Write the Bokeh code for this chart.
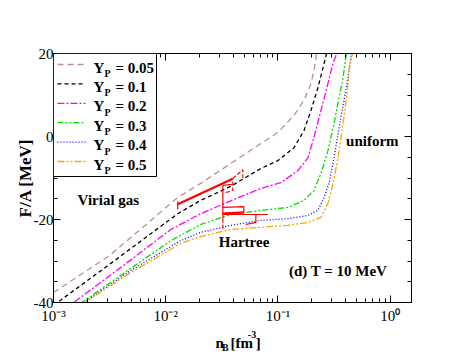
import math
from bokeh.plotting import figure
from bokeh.layouts import column
from bokeh.models import (Range1d, FixedTicker, LogAxis, LinearAxis, Label,
                          BoxAnnotation, Arrow, CustomJSTickFormatter)
from bokeh.embed import file_html
from bokeh.resources import INLINE

# ---------------- data ----------------
yp_values = [0.05, 0.1, 0.2, 0.3, 0.4, 0.5]

nb_005 = [0.001, 0.00316, 0.0128, 0.0205, 0.038, 0.0705, 0.1, 0.139, 0.1706, 0.1972, 0.2094, 0.2183, 0.2215]
fa_005 = [-37.6, -28.7, -14.7, -11.3, -6.5, -1.7, 1.0, 5.1, 8.7, 12.8, 15.9, 19.0, 20.3]

nb_01 = [0.001, 0.00316, 0.0128, 0.0205, 0.038, 0.0705, 0.1, 0.139, 0.1706, 0.1972, 0.2275, 0.2523, 0.2685, 0.272]
fa_01 = [-40.7, -30.8, -18.6, -15.4, -12.0, -7.7, -5.8, -2.7, 1.4, 6.3, 11.8, 16.6, 19.5, 20.3]

nb_02 = [0.001, 0.00148, 0.00396, 0.0111, 0.0205, 0.0405, 0.0705, 0.1064, 0.151, 0.1854, 0.2094, 0.2421, 0.2793, 0.3097, 0.3296, 0.336]
fa_02 = [-43.6, -40.2, -31.6, -22.4, -18.6, -15.2, -12.5, -11.1, -8.2, -5.1, -0.2, 6.3, 12.8, 17.6, 19.5, 20.3]

nb_03 = [0.001, 0.00174, 0.00487, 0.0111, 0.0205, 0.038, 0.0705, 0.1227, 0.1706, 0.2094, 0.2421, 0.2793, 0.3162, 0.3508, 0.3805, 0.4046, 0.41]
fa_03 = [-44.6, -40.2, -31.8, -25.1, -21.2, -18.8, -17.8, -17.1, -15.4, -13.0, -8.9, -3.4, 3.1, 9.4, 14.2, 19.5, 20.3]

nb_04 = [0.001, 0.00182, 0.00487, 0.0136, 0.0205, 0.038, 0.0705, 0.1227, 0.1854, 0.2275, 0.2576, 0.2851, 0.3162, 0.3508, 0.3882, 0.4217, 0.4487, 0.455]
fa_04 = [-44.8, -40.2, -32.3, -25.1, -23.1, -21.4, -20.2, -19.8, -19.0, -17.8, -14.7, -11.3, -5.1, 2.2, 8.7, 14.2, 19.5, 20.3]

nb_05 = [0.001, 0.00185, 0.00487, 0.0136, 0.0205, 0.038, 0.0705, 0.1227, 0.1854, 0.2421, 0.2793, 0.3097, 0.3436, 0.3805, 0.413, 0.4305, 0.4581, 0.462]
fa_05 = [-45.1, -40.2, -32.8, -25.8, -24.1, -22.4, -21.9, -21.4, -20.7, -19.5, -16.1, -11.3, -5.1, 3.1, 10.4, 15.9, 19.5, 20.3]

series_nb = [nb_005, nb_01, nb_02, nb_03, nb_04, nb_05]
series_fa = [fa_005, fa_01, fa_02, fa_03, fa_04, fa_05]

# red phase-boundary segments (Hartree region)
red_solid_nb = [[0.0128, 0.0128],
                [0.0323, 0.0323], [0.0323, 0.0396],
                [0.0323, 0.0497, 0.0497, 0.0323],
                [0.0323, 0.0815],
                [0.0636, 0.0636, 0.0518]]
red_solid_fa = [[-17.6, -15.6],
                [-11.8, -19.8], [-11.8, -11.5],
                [-17.1, -16.9, -18.3, -18.6],
                [-18.8, -18.8],
                [-18.8, -20.7, -21.2]]
red_dash_nb = [[0.0396, 0.0487, 0.0487], [0.0344, 0.0396, 0.0396], [0.0323, 0.0323]]
red_dash_fa = [[-10.1, -8.0, -10.5], [-13.5, -13.0, -10.1], [-19.8, -22.2]]
red_thick_nb = [[0.0128, 0.0396], [0.0323, 0.0497]]
red_thick_fa = [[-16.3, -10.2], [-18.6, -18.3]]

x_major = [0.001, 0.01, 0.1, 1.0]
x_labels = ["10\u207b\u00b3", "10\u207b\u00b2", "10\u207b\u00b9", "10\u2070"]
y_major = [-40, -20, 0, 20]
y_labels = ["-40", "-20", "0", "20"]

# ---------------- styles ----------------
colors = ["#BC8F8F", "#000000", "#FF00FF", "#00E000", "#0000FF", "#FFA500"]
dashes = ["6 4", "4 3", "7 2 2 2", "6 2 2 2 2 2", "1 2", "7 2 2 2 2 2"]
SERIF = "Liberation Serif"

p = figure(width=455, height=326, x_axis_type="log",
           x_range=Range1d(1e-3, 1.55), y_range=Range1d(-40, 20),
           output_backend="svg", toolbar_location=None,
           min_border_left=53, min_border_right=44,
           min_border_top=53, min_border_bottom=24)
p.xgrid.visible = False
p.ygrid.visible = False
p.outline_line_color = "black"
p.outline_line_width = 1
p.background_fill_color = "white"
p.border_fill_color = "white"

x_minor = [k * 10.0 ** e for e in range(-3, 1) for k in range(2, 10)]
y_minor = [v for v in range(-40, 21, 5) if v not in y_major]
xt = FixedTicker(ticks=x_major, minor_ticks=x_minor)
yt = FixedTicker(ticks=y_major, minor_ticks=y_minor)


def style_axis(ax):
    ax.axis_line_color = "black"
    ax.major_tick_line_color = "black"
    ax.minor_tick_line_color = "black"
    ax.major_tick_in = 7
    ax.major_tick_out = 0
    ax.minor_tick_in = 4
    ax.minor_tick_out = 0
    ax.major_label_text_font = SERIF
    ax.major_label_text_color = "black"


xa = p.xaxis[0]
xa.ticker = xt
style_axis(xa)
xa.major_label_overrides = dict(zip(x_major, x_labels))
xa.major_label_text_font_size = "15px"
xa.major_label_standoff = 5

ya = p.yaxis[0]
ya.ticker = yt
style_axis(ya)
ya.major_label_overrides = dict(zip(y_major, y_labels))
ya.major_label_text_font_size = "15px"
ya.major_label_standoff = 0
ya.axis_label = "F/A [MeV]"
ya.axis_label_text_font = SERIF
ya.axis_label_text_font_style = "bold"
ya.axis_label_text_font_size = "17px"
ya.axis_label_text_color = "black"
ya.axis_label_standoff = -4

blank = CustomJSTickFormatter(code="return ''")
top = LogAxis(ticker=xt, formatter=blank)
style_axis(top)
p.add_layout(top, "above")
right = LinearAxis(ticker=yt, formatter=blank)
style_axis(right)
p.add_layout(right, "right")

# curves
for nb, fa, c, d in zip(series_nb, series_fa, colors, dashes):
    p.line(nb, fa, line_color=c, line_dash=d, line_width=1.3)

p.multi_line(xs=red_solid_nb, ys=red_solid_fa, line_color="red", line_width=1.2)
p.multi_line(xs=red_dash_nb, ys=red_dash_fa, line_color="red", line_width=1.2, line_dash="4 2")
p.multi_line(xs=red_thick_nb, ys=red_thick_fa, line_color="red", line_width=2.2)


def dlabel(fig, x, y, text, size="15px", baseline="middle"):
    fig.add_layout(Label(x=x, y=y, text=text, text_font=SERIF, text_font_style="bold",
                         text_font_size=size, text_baseline=baseline, text_align="left",
                         text_color="black"))


# region annotations (data coords)
dlabel(p, 0.00164, -15.4, "Virial gas")
dlabel(p, 0.0297, -25.5, "Hartree")
dlabel(p, 0.405, -1.2, "uniform")
dlabel(p, 0.1253, -32.3, "(d) T = 10 MeV")


def slabel(x, y, text, size):
    p.add_layout(Label(x=x, y=y, x_units="screen", y_units="screen", text=text,
                       text_font=SERIF, text_font_style="bold", text_font_size=size,
                       text_align="left", text_baseline="alphabetic", text_color="black"))


# legend (screen units relative to the frame, y up)
p.add_layout(BoxAnnotation(left=0, right=103, top=249, bottom=126,
                           left_units="screen", right_units="screen",
                           top_units="screen", bottom_units="screen",
                           fill_color="white", fill_alpha=1.0,
                           line_color="black", line_width=1, line_alpha=1.0))
for i, (yp, c, d) in enumerate(zip(yp_values, colors, dashes)):
    yl = 238 - 19.4 * i
    p.add_layout(Arrow(end=None, x_start=4, y_start=yl, x_end=32, y_end=yl,
                       start_units="screen", end_units="screen",
                       line_color=c, line_dash=d, line_width=1.3))
    yb = 235 - 19.4 * i
    slabel(40, yb, "Y", "15px")
    slabel(51, yb - 6, "P", "10px")
    slabel(62, yb, f"= {yp}", "15px")

# x-axis title strip (pixel-like coords: x from left, y up)
q = figure(width=455, height=31, x_range=Range1d(0, 455), y_range=Range1d(0, 31),
           output_backend="svg", toolbar_location=None,
           x_axis_location=None, y_axis_location=None,
           min_border_left=0, min_border_right=0, min_border_top=0, min_border_bottom=0)
q.grid.visible = False
q.outline_line_color = None
q.background_fill_color = "white"
q.border_fill_color = "white"
dlabel(q, 206, 15, "n", "15px", "alphabetic")
dlabel(q, 214, 10, "B", "10px", "alphabetic")
dlabel(q, 225, 15, "[fm", "15px", "alphabetic")
dlabel(q, 247, 23, "-3", "10px", "alphabetic")
dlabel(q, 257, 15, "]", "15px", "alphabetic")

page = column(p, q, spacing=0)
open("out.html", "w").write(file_html(page, INLINE))
